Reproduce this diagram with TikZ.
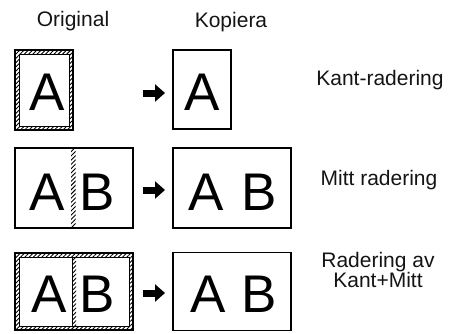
\documentclass[tikz,border=0pt]{standalone}
\usepackage{fontspec}
\setmainfont{Liberation Sans}
\usetikzlibrary{arrows.meta,patterns.meta}
\tikzset{
  frame/.style={draw, line width=1.4pt, inner sep=0pt, outer sep=0pt},
  hatch/.style={pattern={Lines[angle=45,distance=3pt,line width=0.9pt]}},
  inner/.style={line width=0.5pt},
  bigletter/.style={inner sep=0pt, font=\fontsize{53}{53}\selectfont},
  label/.style={inner sep=0pt, anchor=base, align=center, text=black!92, font=\fontsize{21}{20}\selectfont},
  bigarrow/.style={line width=7pt, -{Triangle[length=10pt,width=17pt]}, shorten >=8pt}
}
\begin{document}
\begin{tikzpicture}[x=1pt,y=-1pt]
\useasboundingbox (0,0) rectangle (451,333);

% headings
\node[label] (ho) at (73,26) {Original};
\node[label] (hk) at (231,27) {Kopiera};

% ---------- row 1 ----------
\fill[hatch, even odd rule] (15,50) rectangle (73,130) (19,54) rectangle (69,126);
\draw[inner] (19,54) rectangle (69,126);
\node[frame, minimum width=58pt, minimum height=80pt] (o1) at (44,90) {};
\node[bigletter] (o1a) at (47.5,92.5) {A};
\node[frame, minimum width=58pt, minimum height=79pt] (c1) at (202,89.5) {};
\node[bigletter] (c1a) at (202,92.5) {A};
\coordinate (s1) at (143,93);
\draw[bigarrow] (s1) -- (c1.west |- s1);
\node[label] (l1) at (380,85) {Kant-radering};

% ---------- row 2 ----------
\fill[hatch] (71,148) rectangle (75.5,228);
\node[frame, minimum width=118pt, minimum height=80pt] (o2) at (74,188) {};
\node[bigletter] (o2a) at (47.5,192.5) {A};
\node[bigletter] (o2b) at (97,192.5) {B};
\node[frame, minimum width=118pt, minimum height=80pt] (c2) at (232,188) {};
\node[bigletter] (c2a) at (206,192.5) {A};
\node[bigletter] (c2b) at (259,192.5) {B};
\coordinate (s2) at (143,190);
\draw[bigarrow] (s2) -- (c2.west |- s2);
\node[label] (l2) at (379,185) {Mitt radering};

% ---------- row 3 ----------
\fill[hatch, even odd rule] (15,253) rectangle (133,330) (19,257) rectangle (129,326);
\fill[hatch] (72,257) rectangle (76,326);
\draw[inner] (19,257) rectangle (129,326);
\draw[inner] (72,257) -- (72,326);
\node[frame, minimum width=118pt, minimum height=77pt] (o3) at (74,291.5) {};
\node[bigletter] (o3a) at (49,294) {A};
\node[bigletter] (o3b) at (97.5,294) {B};
\node[frame, minimum width=118pt, minimum height=78pt] (c3) at (232,291.5) {};
\node[bigletter] (c3a) at (208,294) {A};
\node[bigletter] (c3b) at (259,294) {B};
\coordinate (s3) at (143,293);
\draw[bigarrow] (s3) -- (c3.west |- s3);
\node[label] (l3) at (378,287) {Radering av\\Kant+Mitt};
\end{tikzpicture}
\end{document}
